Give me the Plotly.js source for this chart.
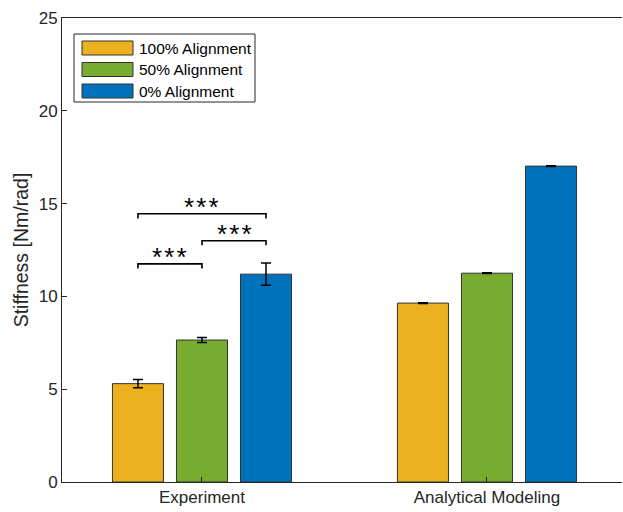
<!DOCTYPE html>
<html>
<head>
<meta charset="utf-8">
<script src="https://cdn.plot.ly/plotly-3.0.1.min.js"></script>
<style>html,body{margin:0;padding:0;background:#fff;overflow:hidden}</style>
</head>
<body>
<div id="chart" style="width:623px;height:512px"></div>
<script>
// ---- data ----
const categories = ['Experiment', 'Analytical Modeling'];
const seriesNames = ['100% Alignment', '50% Alignment', '0% Alignment'];
const align100 = [5.30, 9.64];
const align50 = [7.65, 11.25];
const align0 = [11.20, 17.02];
const err100 = [0.22, 0.02];
const err50 = [0.14, 0.02];
const err0 = [0.60, 0.02];
// significance brackets: [seriesA, seriesB, height] within Experiment group
const sigPairs = [[0, 1, 11.75], [1, 2, 13.0], [0, 2, 14.45]];
const sigLabels = ['*\u200a*\u200a*', '*\u200a*\u200a*', '*\u200a*\u200a*'];

// ---- style ----
const colors = ['#EDB120', '#77AC30', '#0072BD'];
const bargap = 0.326, bargroupgap = 0.203;
const slot = (1 - bargap) / 3;
const axisColor = '#262626';
const fontFam = 'Arial, "Liberation Sans", Helvetica, sans-serif';

const xIdx = categories.map((c, i) => i);
const values = [align100, align50, align0];
const errs = [err100, err50, err0];

const traces = seriesNames.map((name, k) => ({
  type: 'bar', name: name, x: xIdx, y: values[k],
  marker: {color: colors[k], line: {color: '#333333', width: 1}},
  error_y: {type: 'data', array: errs[k], visible: true, color: '#000000', thickness: 1.5, width: 5},
  showlegend: false, hoverinfo: 'skip'
}));

const tick = 0.25;
const annotations = [];
sigPairs.forEach((p, i) => {
  const xa = xIdx[0] + (p[0] - 1) * slot;
  const xb = xIdx[0] + (p[1] - 1) * slot;
  traces.push({
    type: 'scatter', mode: 'lines',
    x: [xa, xa, xb, xb], y: [p[2] - tick, p[2], p[2], p[2] - tick],
    line: {color: '#000000', width: 1.6}, showlegend: false, hoverinfo: 'skip'
  });
  annotations.push({
    x: (xa + xb) / 2, y: p[2], xref: 'x', yref: 'y', text: sigLabels[i],
    showarrow: false, yanchor: 'bottom', xanchor: 'center', yshift: -10,
    font: {family: fontFam, size: 26, color: '#000000'}
  });
});

// custom legend (MATLAB-style wide swatches)
const shapes = [];
const legL = 74, legT = 34, legW = 181, legH = 68;
const W = 623, H = 512, mL = 62, mR = 1, mT = 18, mB = 30;
const pw = W - mL - mR, ph = H - mT - mB;
const px = v => (v - mL) / pw;
const py = v => 1 - (v - mT) / ph;
shapes.push({type: 'rect', xref: 'paper', yref: 'paper', x0: px(legL), x1: px(legL + legW), y0: py(legT + legH), y1: py(legT),
  line: {color: '#262626', width: 1}, fillcolor: '#ffffff', layer: 'above'});
seriesNames.forEach((n, k) => {
  const cy = 48 + k * 21.5;
  shapes.push({type: 'rect', xref: 'paper', yref: 'paper', x0: px(82), x1: px(133), y0: py(cy + 7), y1: py(cy - 7),
    line: {color: '#333333', width: 1}, fillcolor: colors[k], layer: 'above'});
  annotations.push({xref: 'paper', yref: 'paper', x: px(137), y: py(cy), text: n, showarrow: false,
    xanchor: 'left', yanchor: 'middle', font: {family: fontFam, size: 15.5, color: '#000000'}});
});

const layout = {
  width: W, height: H,
  margin: {l: mL, r: mR, t: mT, b: mB},
  paper_bgcolor: '#ffffff', plot_bgcolor: '#ffffff',
  barmode: 'group', bargap: bargap, bargroupgap: bargroupgap,
  font: {family: fontFam, color: axisColor},
  xaxis: {
    range: [-0.4912, 1.4737], tickvals: xIdx, ticktext: categories,
    ticks: 'inside', ticklen: 5, tickcolor: axisColor,
    showline: true, linecolor: axisColor, linewidth: 1, mirror: true,
    showgrid: false, zeroline: false, tickfont: {size: 17, color: axisColor}
  },
  yaxis: {
    range: [0, 25], tickvals: [0, 5, 10, 15, 20, 25],
    ticks: 'inside', ticklen: 5, tickcolor: axisColor,
    showline: true, linecolor: axisColor, linewidth: 1,
    showgrid: false, zeroline: false, tickfont: {size: 17, color: axisColor},
    title: {text: 'Stiffness [Nm/rad]', font: {size: 19.5, color: axisColor}, standoff: 4}
  },
  shapes: shapes, annotations: annotations, showlegend: false
};

Plotly.newPlot('chart', traces, layout, {displayModeBar: false, staticPlot: true});
</script>
</body>
</html>
